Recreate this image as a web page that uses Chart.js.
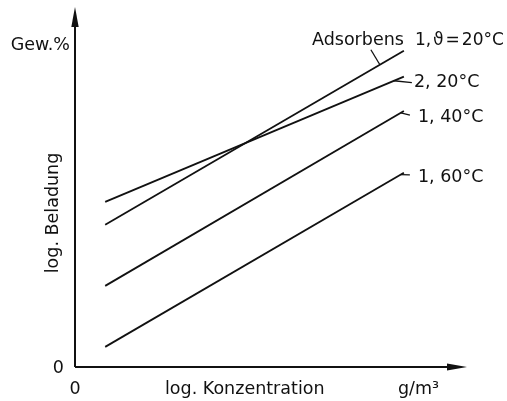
<!DOCTYPE html>
<html>
<head>
<meta charset="utf-8">
<script src="https://cdn.jsdelivr.net/npm/chart.js@4/dist/chart.umd.min.js"></script>
<style>
  body { margin: 0; background: #fff; }
  #wrap { width: 507px; height: 401px; }
</style>
</head>
<body>
<div id="wrap"><canvas id="adsorption"></canvas></div>
<script>
// log. Konzentration (start / end of each isotherm), arbitrary units 0..100
const concentration = [7.7, 83.9]
// log. Beladung for each isotherm
const ads1_20 = [39.6, 88.1]
const ads2_20 = [46.0, 80.9]
const ads1_40 = [22.6, 71.3]
const ads1_60 = [5.6, 54.1]
const seriesLabels = ['1, ϑ = 20°C', '2, 20°C', '1, 40°C', '1, 60°C']
const seriesValues = [ads1_20, ads2_20, ads1_40, ads1_60]

const FONT = '17.5px "DejaVu Sans"'

function toPoints(vals) {
    return vals.map((v, i) => ({ x: concentration[i], y: v }))
}

// where the curve labels sit, relative to the end of each line (px)
const labelPos = [
    { dx: 11, dy: -10, leadFrom: -24, leadTo: [-33, -1] },
    { dx: 10, dy: 6, leadFrom: -10, leadTo: [8, 6] },
    { dx: 14, dy: 6, leadFrom: -3, leadTo: [6, 4] },
    { dx: 14, dy: 5, leadFrom: -3, leadTo: [6, 2] }
]

// draw a label tighter than the font would, piece by piece, squeezed into maxW
function tightText(ctx, text, x, y, maxW) {
    const parts = text.split(' ')
    const gap = 2
    let total = -gap
    parts.forEach(part => { total += ctx.measureText(part).width + gap })
    const k = Math.min(1, maxW / total)
    ctx.save()
    ctx.translate(x, y)
    ctx.scale(k, 1)
    let cx = 0
    parts.forEach(part => {
        ctx.fillText(part, cx, 0)
        cx += ctx.measureText(part).width + gap
    })
    ctx.restore()
}

const axesPlugin = {
    id: 'axesPlugin',
    afterDraw(chart) {
        const ctx = chart.ctx
        const xs = chart.scales.x
        const ys = chart.scales.y
        const x0 = xs.getPixelForValue(0)
        const y0 = ys.getPixelForValue(0)
        const top = chart.chartArea.top - 1
        const right = chart.chartArea.right
        ctx.save()
        ctx.strokeStyle = '#111'
        ctx.fillStyle = '#111'
        ctx.lineWidth = 2
        ctx.beginPath()
        ctx.moveTo(x0, y0)
        ctx.lineTo(x0, top + 10)
        ctx.moveTo(x0, y0)
        ctx.lineTo(right - 10, y0)
        ctx.stroke()
        // arrow heads
        ctx.beginPath()
        ctx.moveTo(x0, top)
        ctx.lineTo(x0 - 3.7, top + 20)
        ctx.lineTo(x0 + 3.7, top + 20)
        ctx.closePath()
        ctx.fill()
        ctx.beginPath()
        ctx.moveTo(right, y0)
        ctx.lineTo(right - 20, y0 - 3.5)
        ctx.lineTo(right - 20, y0 + 3.5)
        ctx.closePath()
        ctx.fill()

        ctx.font = FONT
        ctx.textBaseline = 'middle'
        ctx.textAlign = 'right'
        ctx.fillText('Gew.%', 70, 45)
        ctx.fillText('0', 64, y0 + 1)
        ctx.textAlign = 'center'
        ctx.fillText('0', x0, 389)
        ctx.textAlign = 'left'
        ctx.fillText('log. Konzentration', 165, 389)
        ctx.fillText('g/m³', 398, 389)
        ctx.save()
        ctx.translate(53, 213)
        ctx.rotate(-Math.PI / 2)
        ctx.textAlign = 'center'
        ctx.fillText('log. Beladung', 0, 0)
        ctx.restore()

        // curve labels with leader lines
        ctx.lineWidth = 1.3
        chart.data.datasets.forEach((ds, i) => {
            const pts = chart.getDatasetMeta(i).data
            const a = pts[0], b = pts[pts.length - 1]
            const p = labelPos[i]
            const lx = b.x + p.leadFrom
            const ly = a.y + (b.y - a.y) * (lx - a.x) / (b.x - a.x)
            ctx.beginPath()
            ctx.moveTo(lx, ly)
            ctx.lineTo(b.x + p.leadTo[0], b.y + p.leadTo[1])
            ctx.stroke()
            ctx.textAlign = 'left'
            if (i === 0) tightText(ctx, seriesLabels[i], b.x + p.dx, b.y + p.dy, 89)
            else ctx.fillText(seriesLabels[i], b.x + p.dx, b.y + p.dy)
        })
        const e = chart.getDatasetMeta(0).data[1]
        ctx.textAlign = 'right'
        ctx.fillText('Adsorbens', e.x, e.y - 10)
        ctx.restore()
    }
}

const myChart = new Chart(document.getElementById('adsorption'), {
    type: 'scatter',
    data: {
        datasets: seriesValues.map((vals, i) => ({
            label: seriesLabels[i],
            data: toPoints(vals),
            showLine: true,
            borderColor: '#111',
            borderWidth: 1.8,
            pointRadius: 0,
            fill: false
        }))
    },
    options: {
        responsive: true,
        maintainAspectRatio: false,
        animation: false,
        layout: { padding: { left: 75, top: 8, right: 40, bottom: 34 } },
        plugins: {
            legend: { display: false },
            tooltip: { enabled: false }
        },
        scales: {
            x: { type: 'linear', min: 0, max: 100, display: false },
            y: { type: 'linear', min: 0, max: 100, display: false }
        }
    },
    plugins: [axesPlugin]
});
</script>
</body>
</html>
